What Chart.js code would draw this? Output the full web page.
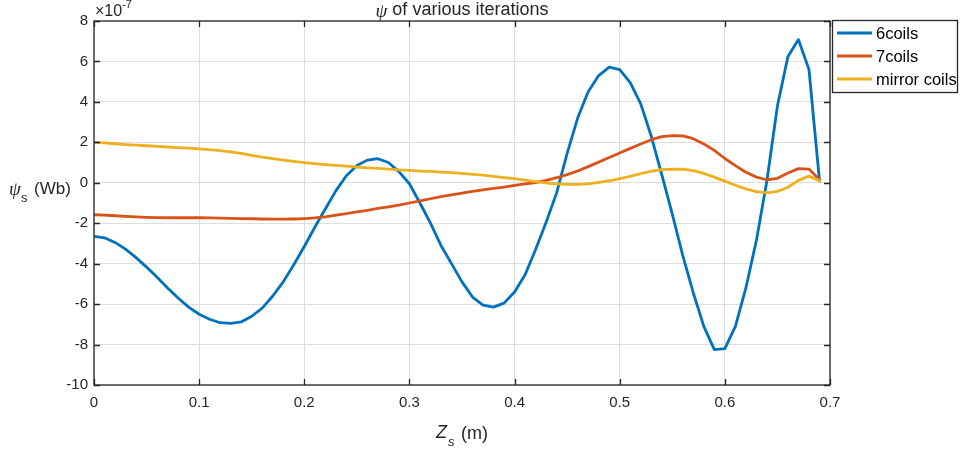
<!DOCTYPE html>
<html>
<head>
<meta charset="utf-8">
<script src="https://cdn.jsdelivr.net/npm/chart.js@4/dist/chart.umd.min.js"></script>
<style>
  html, body { margin: 0; padding: 0; background: #fff; }
  #wrap { width: 960px; height: 452px; }
</style>
</head>
<body>
<div id="wrap"><canvas id="chart" width="960" height="452"></canvas></div>
<script>
// Z_s positions (m)
const zValues = [
    0.00, 0.01, 0.02, 0.03, 0.04, 0.05, 0.06, 0.07, 0.08, 0.09,
    0.10, 0.11, 0.12, 0.13, 0.14, 0.15, 0.16, 0.17, 0.18, 0.19,
    0.20, 0.21, 0.22, 0.23, 0.24, 0.25, 0.26, 0.27, 0.28, 0.29,
    0.30, 0.31, 0.32, 0.33, 0.34, 0.35, 0.36, 0.37, 0.38, 0.39,
    0.40, 0.41, 0.42, 0.43, 0.44, 0.45, 0.46, 0.47, 0.48, 0.49,
    0.50, 0.51, 0.52, 0.53, 0.54, 0.55, 0.56, 0.57, 0.58, 0.59,
    0.60, 0.61, 0.62, 0.63, 0.64, 0.65, 0.66, 0.67, 0.68, 0.69
]

// psi_s in units of 1e-7 Wb
const coils6 = [
    -2.65, -2.72, -2.95, -3.28, -3.70, -4.17, -4.67, -5.20, -5.70, -6.15,
    -6.50, -6.75, -6.92, -6.95, -6.88, -6.60, -6.20, -5.60, -4.90, -4.05,
    -3.15, -2.20, -1.30, -0.40, 0.35, 0.85, 1.12, 1.19, 1.00, 0.55,
    -0.05, -1.00, -2.00, -3.10, -4.00, -4.90, -5.65, -6.05, -6.15, -5.95,
    -5.40, -4.55, -3.30, -1.95, -0.50, 1.45, 3.20, 4.50, 5.30, 5.72,
    5.60, 4.95, 3.90, 2.30, 0.40, -1.55, -3.60, -5.45, -7.10, -8.25,
    -8.20, -7.10, -5.20, -2.85, 0.10, 3.80, 6.25, 7.08, 5.60, 0.10
]

const coils7 = [
    -1.58, -1.60, -1.63, -1.66, -1.69, -1.71, -1.72, -1.73, -1.73, -1.73,
    -1.73, -1.74, -1.75, -1.76, -1.77, -1.78, -1.79, -1.80, -1.80, -1.79,
    -1.77, -1.74, -1.69, -1.60, -1.52, -1.44, -1.36, -1.27, -1.19, -1.10,
    -1.00, -0.90, -0.79, -0.69, -0.60, -0.51, -0.43, -0.35, -0.28, -0.21,
    -0.13, -0.05, 0.01, 0.12, 0.25, 0.40, 0.58, 0.80, 1.02, 1.25,
    1.47, 1.70, 1.92, 2.13, 2.28, 2.33, 2.32, 2.18, 1.92, 1.60,
    1.20, 0.85, 0.52, 0.28, 0.15, 0.22, 0.48, 0.70, 0.68, 0.15
]

const mirrorCoils = [
    2.00, 1.97, 1.93, 1.89, 1.86, 1.83, 1.80, 1.77, 1.74, 1.71,
    1.68, 1.64, 1.59, 1.53, 1.45, 1.36, 1.27, 1.19, 1.12, 1.06,
    1.00, 0.95, 0.90, 0.86, 0.82, 0.78, 0.74, 0.71, 0.67, 0.64,
    0.61, 0.58, 0.56, 0.53, 0.50, 0.46, 0.42, 0.38, 0.32, 0.26,
    0.20, 0.13, 0.06, -0.01, -0.05, -0.08, -0.08, -0.05, 0.02, 0.10,
    0.20, 0.32, 0.45, 0.57, 0.65, 0.68, 0.67, 0.60, 0.46, 0.28,
    0.08, -0.12, -0.30, -0.44, -0.50, -0.43, -0.22, 0.12, 0.33, 0.10
]

const seriesNames = ['6coils', '7coils', 'mirror coils']
const seriesColors = ['#0072BD', '#D95319', '#EDB120']

const FONT = '"Liberation Sans", Arial, sans-serif'
const SERIF = '"Liberation Serif", "DejaVu Serif", serif'
const INK = '#262626'

function toPoints(values) {
    return zValues.map((z, i) => ({ x: z, y: values[i] }))
}

// MATLAB style frame with inward ticks, legend box and labels
const matlabDecor = {
    id: 'matlabDecor',
    afterDraw(chart) {
        const ctx = chart.ctx
        const a = chart.chartArea
        const xs = chart.scales.x
        const ys = chart.scales.y
        const tl = 6

        ctx.save()
        ctx.strokeStyle = INK
        ctx.lineWidth = 1.3
        ctx.strokeRect(a.left, a.top, a.right - a.left, a.bottom - a.top)

        ctx.beginPath()
        xs.ticks.forEach(t => {
            const px = Math.round(xs.getPixelForValue(t.value)) + 0.5
            ctx.moveTo(px, a.bottom); ctx.lineTo(px, a.bottom - tl)
            ctx.moveTo(px, a.top); ctx.lineTo(px, a.top + tl)
        })
        ys.ticks.forEach(t => {
            const py = Math.round(ys.getPixelForValue(t.value)) + 0.5
            ctx.moveTo(a.left, py); ctx.lineTo(a.left + tl, py)
            ctx.moveTo(a.right, py); ctx.lineTo(a.right - tl, py)
        })
        ctx.stroke()

        // title
        const cx = (a.left + a.right) / 2
        ctx.fillStyle = INK
        ctx.textBaseline = 'middle'
        ctx.textAlign = 'left'
        ctx.font = 'italic 19px ' + SERIF
        const psiW = ctx.measureText('\u03c8').width
        ctx.font = '18px ' + FONT
        const restTxt = ' of various iterations'
        const restW = ctx.measureText(restTxt).width
        const tx = cx - (psiW + restW) / 2
        ctx.font = 'italic 19px ' + SERIF
        ctx.fillText('\u03c8', tx, 12)
        ctx.font = '18px ' + FONT
        ctx.fillText(restTxt, tx + psiW, 10)

        // exponent
        ctx.font = '16px ' + FONT
        ctx.fillText('\u00d710', 95, 12)
        const eW = ctx.measureText('\u00d710').width
        ctx.font = '11px ' + FONT
        ctx.fillText('-7', 95 + eW, 5)

        // y label
        ctx.font = 'italic 19px ' + SERIF
        ctx.fillText('\u03c8', 9, 190)
        ctx.font = '13px ' + FONT
        ctx.fillText('s', 21, 198)
        ctx.font = '17px ' + FONT
        ctx.fillText('(Wb)', 34, 189)

        // x label
        ctx.font = 'italic 18px ' + FONT
        ctx.fillText('Z', 436, 433)
        ctx.font = 'italic 13px ' + FONT
        ctx.fillText('s', 448, 442)
        ctx.font = '18px ' + FONT
        ctx.fillText('(m)', 461, 434)

        // legend
        const lx = 832, ly = 20, lw = 125, lh = 72
        ctx.fillStyle = '#fff'
        ctx.fillRect(lx, ly, lw, lh)
        ctx.strokeStyle = INK
        ctx.lineWidth = 1.3
        ctx.strokeRect(lx + 0.5, ly + 0.5, lw, lh)
        seriesNames.forEach((name, i) => {
            const y = ly + 13 + i * 23
            ctx.strokeStyle = seriesColors[i]
            ctx.lineWidth = 2.8
            ctx.beginPath()
            ctx.moveTo(837, y); ctx.lineTo(872, y)
            ctx.stroke()
            ctx.fillStyle = '#000'
            ctx.font = '16.5px ' + FONT
            ctx.fillText(name, 876, y + 1)
        })
        ctx.restore()
    }
}

new Chart(document.querySelector('#chart'), {
    type: 'line',
    data: {
        datasets: [
            { label: seriesNames[0], data: toPoints(coils6), borderColor: seriesColors[0], order: 2 },
            { label: seriesNames[1], data: toPoints(coils7), borderColor: seriesColors[1], order: 1 },
            { label: seriesNames[2], data: toPoints(mirrorCoils), borderColor: seriesColors[2], order: 0 },
        ]
    },
    options: {
        responsive: false,
        animation: false,
        events: [],
        layout: { padding: { left: 0, top: 21, right: 130, bottom: 0 } },
        elements: {
            line: { borderWidth: 2.8, tension: 0, fill: false, borderJoinStyle: 'round', borderCapStyle: 'round' },
            point: { radius: 0 }
        },
        plugins: {
            legend: { display: false },
            title: { display: false },
            tooltip: { enabled: false }
        },
        scales: {
            x: {
                type: 'linear',
                min: 0,
                max: 0.7,
                ticks: {
                    stepSize: 0.1,
                    padding: 9,
                    color: INK,
                    font: { family: FONT, size: 15 },
                    maxRotation: 0,
                    callback: v => String(+v.toFixed(1))
                },
                grid: { color: '#dedede', drawTicks: false },
                border: { display: false },
                afterFit: s => { s.height = 67 }
            },
            y: {
                min: -10,
                max: 8,
                ticks: {
                    stepSize: 2,
                    padding: 6,
                    color: INK,
                    font: { family: FONT, size: 15 },
                    callback: v => String(v)
                },
                grid: { color: '#dedede', drawTicks: false },
                border: { display: false },
                afterFit: s => { s.width = 94 }
            }
        }
    },
    plugins: [matlabDecor]
});
</script>
</body>
</html>
